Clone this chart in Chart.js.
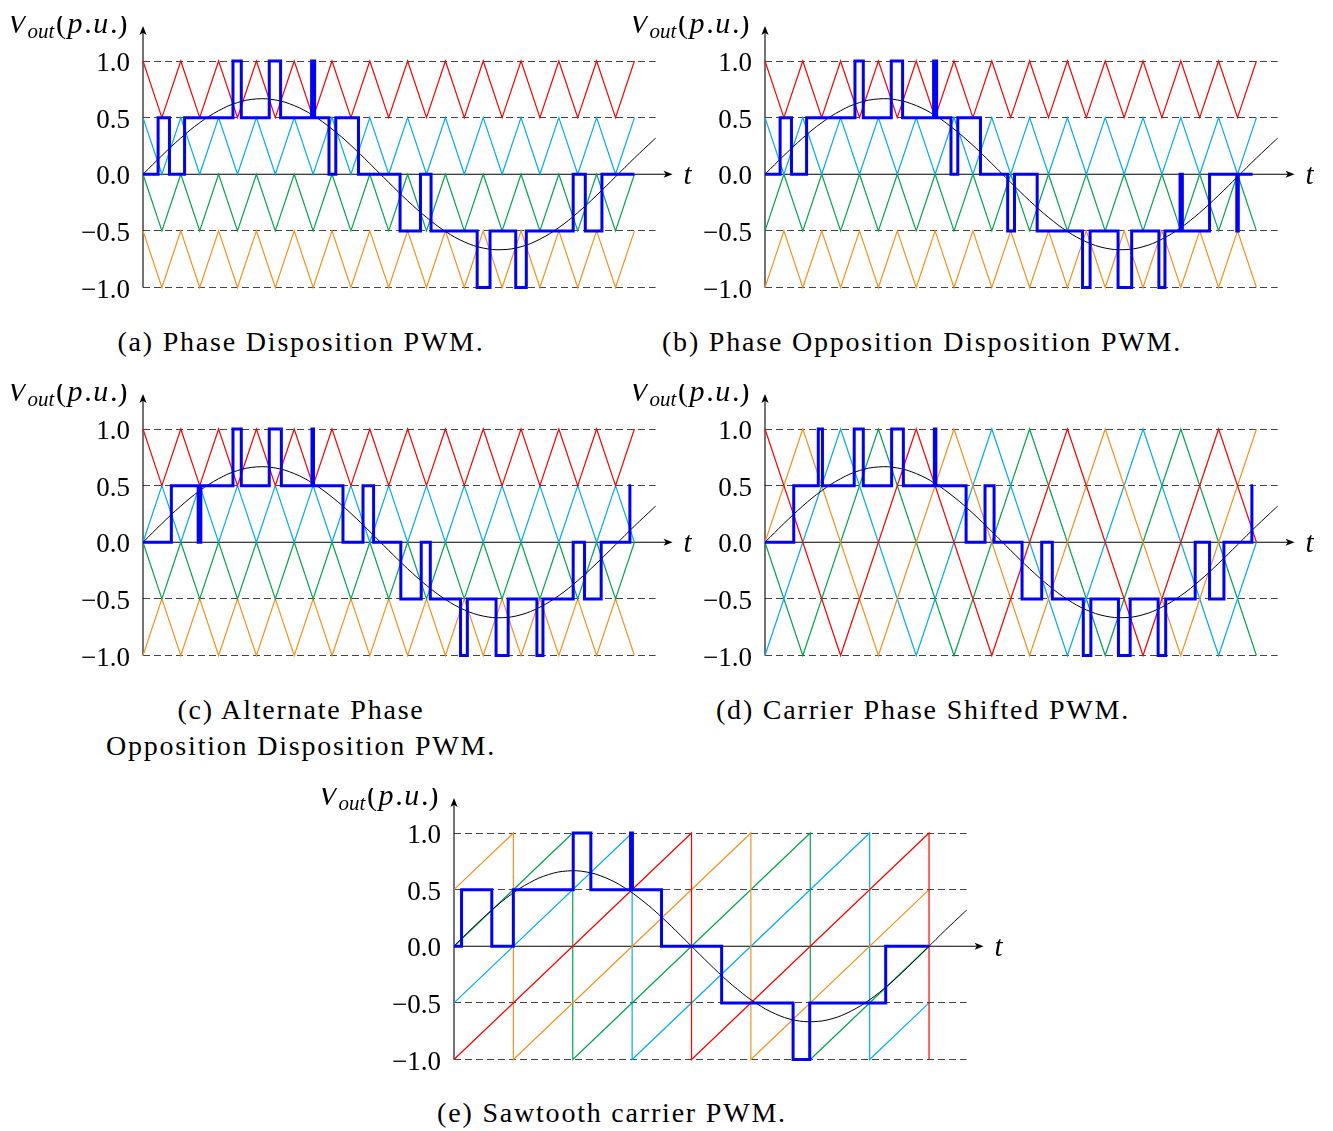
<!DOCTYPE html>
<html>
<head>
<meta charset="utf-8">
<script src="https://cdn.jsdelivr.net/npm/chart.js@4.4.1/dist/chart.umd.min.js"></script>
<style>
  body { margin: 0; background: #fff; width: 1333px; height: 1131px; position: relative; overflow: hidden; font-family: "Liberation Serif", serif; }
  .panel { position: absolute; width: 700px; height: 282px; }
  .cap { position: absolute; font-size: 28px; letter-spacing: 1.8px; line-height: 36px; white-space: nowrap; text-align: center; transform: translateX(-50%); color: #000; }
</style>
</head>
<body>
<div class="panel" style="left:3.3px;top:16px"><canvas id="pd"></canvas></div>
<div class="panel" style="left:625px;top:16px"><canvas id="pod"></canvas></div>
<div class="panel" style="left:3.3px;top:384px"><canvas id="apod"></canvas></div>
<div class="panel" style="left:625px;top:384px"><canvas id="cps"></canvas></div>
<div class="panel" style="left:314px;top:787.7px"><canvas id="saw"></canvas></div>

<div class="cap" style="left:301px;top:324px">(a) Phase Disposition PWM.</div>
<div class="cap" style="left:922px;top:324px">(b) Phase Opposition Disposition PWM.</div>
<div class="cap" style="left:301px;top:692px">(c) Alternate Phase<br>Opposition Disposition PWM.</div>
<div class="cap" style="left:923px;top:692px">(d) Carrier Phase Shifted PWM.</div>
<div class="cap" style="left:612px;top:1095px">(e) Sawtooth carrier PWM.</div>

<script>
const SERIF = '"Liberation Serif", serif';
Chart.defaults.color = '#000';
Chart.defaults.font.family = SERIF;

const RED = '#ff0000', CYAN = '#00aeef', GREEN = '#00a64f', ORANGE = '#f7921d', PWM = '#0000ff';

// time grids (carrier period 0.5, reference is sin(t))
const tQ = [0,0.25,0.5,0.75,1,1.25,1.5,1.75,2,2.25,2.5,2.75,3,3.25,3.5,3.75,4,4.25,4.5,4.75,5,5.25,5.5,5.75,6,6.25,6.5];
const tH = [0,0.5,1,1.5,2,2.5,3,3.5,4,4.5,5,5.5,6,6.5];

// reference sine
const refT = tQ.concat([6.75, 6.78]);
const refV = [0,0.165,0.320,0.455,0.561,0.633,0.665,0.656,0.606,0.519,0.399,0.255,0.094,-0.072,-0.234,-0.381,-0.505,-0.597,-0.652,-0.666,-0.640,-0.573,-0.471,-0.339,-0.186,-0.022,0.143,0.300,0.318];

// triangular carriers on tQ
const redA    = [1,.5,1,.5,1,.5,1,.5,1,.5,1,.5,1,.5,1,.5,1,.5,1,.5,1,.5,1,.5,1,.5,1];
const blueA   = [.5,0,.5,0,.5,0,.5,0,.5,0,.5,0,.5,0,.5,0,.5,0,.5,0,.5,0,.5,0,.5,0,.5];
const blueB   = [0,.5,0,.5,0,.5,0,.5,0,.5,0,.5,0,.5,0,.5,0,.5,0,.5,0,.5,0,.5,0,.5,0];
const greenA  = [0,-.5,0,-.5,0,-.5,0,-.5,0,-.5,0,-.5,0,-.5,0,-.5,0,-.5,0,-.5,0,-.5,0,-.5,0,-.5,0];
const greenB  = [-.5,0,-.5,0,-.5,0,-.5,0,-.5,0,-.5,0,-.5,0,-.5,0,-.5,0,-.5,0,-.5,0,-.5,0,-.5,0,-.5];
const orangeA = [-.5,-1,-.5,-1,-.5,-1,-.5,-1,-.5,-1,-.5,-1,-.5,-1,-.5,-1,-.5,-1,-.5,-1,-.5,-1,-.5,-1,-.5,-1,-.5];
const orangeB = [-1,-.5,-1,-.5,-1,-.5,-1,-.5,-1,-.5,-1,-.5,-1,-.5,-1,-.5,-1,-.5,-1,-.5,-1,-.5,-1,-.5,-1,-.5,-1];

// phase shifted carriers on tH
const cpsRed    = [1,0,-1,0,1,0,-1,0,1,0,-1,0,1,0];
const cpsOrange = [0,1,0,-1,0,1,0,-1,0,1,0,-1,0,1];
const cpsBlue   = [-1,0,1,0,-1,0,1,0,-1,0,1,0,-1,0];
const cpsGreen  = [0,-1,0,1,0,-1,0,1,0,-1,0,1,0,-1];

// sawtooth carriers
const sawRedT = [0,3.1416,3.1416,6.2832,6.2832],          sawRedV = [-1,1,-1,1,-1];
const sawOrangeT = [0,0.7854,0.7854,3.927,3.927,6.2832],  sawOrangeV = [0.5,1,-1,1,-1,0.5];
const sawGreenT = [0,1.5708,1.5708,4.7124,4.7124,6.2832], sawGreenV = [0,1,-1,1,-1,0];
const sawBlueT = [0,2.3562,2.3562,5.4978,5.4978,6.2832],  sawBlueV = [-0.5,1,-1,1,-1,-0.5];

// output levels: switching instants and level after each one
const pwmAT = [0,0.20,0.35,0.55,1.19,1.30,1.67,1.82,2.23,2.27,2.46,2.55,2.85,3.40,3.67,3.81,4.42,4.59,4.93,5.07,5.69,5.85,6.07,6.5];
const pwmAV = [0,.5,0,.5,1,.5,1,.5,1,.5,0,.5,0,-.5,0,-.5,-1,-.5,-1,-.5,0,-.5,0,0];
const pwmBT = [0,0.20,0.35,0.55,1.19,1.30,1.67,1.82,2.23,2.27,2.46,2.55,2.85,3.21,3.30,3.60,4.20,4.30,4.67,4.85,5.21,5.29,5.49,5.52,5.88,6.24,6.26,6.45];
const pwmBV = [0,.5,0,.5,1,.5,1,.5,1,.5,0,.5,0,-.5,0,-.5,-1,-.5,-1,-.5,-1,-.5,0,-.5,0,-.5,0,0];
const pwmCT = [0,0.375,0.73,0.765,1.19,1.30,1.67,1.83,2.235,2.255,2.645,2.91,3.05,3.41,3.68,3.80,4.20,4.29,4.67,4.83,5.21,5.29,5.69,5.84,6.06,6.44,6.455];
const pwmCV = [0,.5,0,.5,1,.5,1,.5,1,.5,0,.5,0,-.5,0,-.5,-1,-.5,-1,-.5,-1,-.5,0,-.5,0,.5,.5];
const pwmDT = [0,0.38,0.705,0.76,1.18,1.30,1.675,1.83,2.24,2.26,2.66,2.91,3.03,3.40,3.66,3.80,4.21,4.31,4.675,4.83,5.20,5.30,5.69,5.88,6.07,6.44,6.455];
const pwmDV = [0,.5,1,.5,1,.5,1,.5,1,.5,0,.5,0,-.5,0,-.5,-1,-.5,-1,-.5,-1,-.5,0,-.5,0,.5,.5];
const pwmET = [0,0.10,0.50,0.785,1.577,1.81,2.335,2.36,2.745,3.54,4.485,4.705,5.71,6.2832];
const pwmEV = [0,.5,0,.5,1,.5,1,.5,0,-.5,-1,-.5,0,0];

const yTicks = [-1, -0.5, 0, 0.5, 1];

const pts = (ts, vs) => ts.map((t, i) => ({ x: t, y: vs[i] }));

function carrier(ts, vs, color) {
  return { data: pts(ts, vs), borderColor: color, borderWidth: 1.2, pointRadius: 0, tension: 0, clip: false };
}

function arrowHead(ctx, x, y, dx, dy) {
  // tip at (x,y), pointing along (dx,dy)
  const len = 9, half = 3.6;
  const px = -dy, py = dx;
  ctx.beginPath();
  ctx.moveTo(x, y);
  ctx.lineTo(x - dx * len + px * half, y - dy * len + py * half);
  ctx.lineTo(x - dx * len * 0.75, y - dy * len * 0.75);
  ctx.lineTo(x - dx * len - px * half, y - dy * len - py * half);
  ctx.closePath();
  ctx.fill();
}

const axesPlugin = {
  id: 'axes',
  beforeDatasetsDraw(chart) {
    const { ctx, chartArea: a, scales: { x, y } } = chart;
    const x0 = x.getPixelForValue(0), y0 = y.getPixelForValue(0);
    const xTip = a.right + 17, yTip = a.top - 35;
    ctx.save();
    ctx.strokeStyle = '#000';
    ctx.fillStyle = '#000';
    ctx.lineWidth = 1.1;
    ctx.beginPath();
    ctx.moveTo(x0, y0); ctx.lineTo(xTip - 5, y0);
    ctx.moveTo(x0, a.bottom); ctx.lineTo(x0, yTip + 5);
    ctx.stroke();
    arrowHead(ctx, xTip, y0, 1, 0);
    arrowHead(ctx, x0, yTip, 0, -1);
    ctx.restore();
  },
  afterDraw(chart) {
    const { ctx, chartArea: a, scales: { x, y } } = chart;
    const x0 = x.getPixelForValue(0), y0 = y.getPixelForValue(0);
    ctx.save();
    ctx.fillStyle = '#000';
    ctx.textBaseline = 'alphabetic';
    ctx.font = 'italic 29px ' + SERIF;
    ctx.textAlign = 'left';
    ctx.fillText('t', a.right + 28, y0 + 10);

    const parts = [
      ['V', 'italic 30px', 0], ['out', 'italic 21px', 5], ['(', '30px', 0],
      ['p', 'italic 30px', 0], ['.', '30px', 0], ['u', 'italic 30px', 0], ['.)', '30px', 0]
    ];
    const gap = 1.6;
    let w = 0;
    parts.forEach(p => { ctx.font = p[1] + ' ' + SERIF; w += ctx.measureText(p[0]).width + gap; });
    let cx = x0 - 14 - w;
    parts.forEach(p => {
      ctx.font = p[1] + ' ' + SERIF;
      ctx.fillText(p[0], cx, a.top - 28 + p[2]);
      cx += ctx.measureText(p[0]).width + gap;
    });
    ctx.restore();
  }
};

function makeChart(id, carriers, pwmT, pwmV) {
  const datasets = [
    { data: pts(pwmT, pwmV), borderColor: PWM, borderWidth: 3, pointRadius: 0, stepped: 'before', clip: false },
    { data: pts(refT, refV), borderColor: '#000', borderWidth: 1, pointRadius: 0, tension: 0.4, clip: false }
  ].concat(carriers);

  new Chart(document.getElementById(id), {
    type: 'line',
    data: { datasets },
    plugins: [axesPlugin],
    options: {
      responsive: true,
      maintainAspectRatio: false,
      animation: false,
      events: [],
      layout: { padding: { top: 45, bottom: 10.5, left: 0, right: 47.4 } },
      plugins: { legend: { display: false }, tooltip: { enabled: false } },
      scales: {
        x: { type: 'linear', min: 0, max: 6.78, display: false },
        y: {
          min: -1,
          max: 1,
          afterFit: s => { s.width = 140; s.paddingTop = 0; s.paddingBottom = 0; },
          afterBuildTicks: s => { s.ticks = yTicks.map(v => ({ value: v })); },
          ticks: {
            padding: 13,
            labelOffset: 3,
            font: { size: 27 },
            callback: v => (v < 0 ? '\u2212' : '') + Math.abs(v).toFixed(1)
          },
          grid: {
            drawTicks: false,
            lineWidth: 1,
            color: c => (c.tick && c.tick.value === 0) ? 'rgba(0,0,0,0)' : '#444'
          },
          border: { display: false, dash: [7, 4] }
        }
      }
    }
  });
}

makeChart('pd', [
  carrier(tQ, redA, RED), carrier(tQ, blueA, CYAN), carrier(tQ, greenA, GREEN), carrier(tQ, orangeA, ORANGE)
], pwmAT, pwmAV);

makeChart('pod', [
  carrier(tQ, redA, RED), carrier(tQ, blueA, CYAN), carrier(tQ, greenB, GREEN), carrier(tQ, orangeB, ORANGE)
], pwmBT, pwmBV);

makeChart('apod', [
  carrier(tQ, redA, RED), carrier(tQ, blueB, CYAN), carrier(tQ, greenA, GREEN), carrier(tQ, orangeB, ORANGE)
], pwmCT, pwmCV);

makeChart('cps', [
  carrier(tH, cpsRed, RED), carrier(tH, cpsOrange, ORANGE), carrier(tH, cpsBlue, CYAN), carrier(tH, cpsGreen, GREEN)
], pwmDT, pwmDV);

makeChart('saw', [
  carrier(sawRedT, sawRedV, RED), carrier(sawOrangeT, sawOrangeV, ORANGE), carrier(sawGreenT, sawGreenV, GREEN), carrier(sawBlueT, sawBlueV, CYAN)
], pwmET, pwmEV);
</script>
</body>
</html>
